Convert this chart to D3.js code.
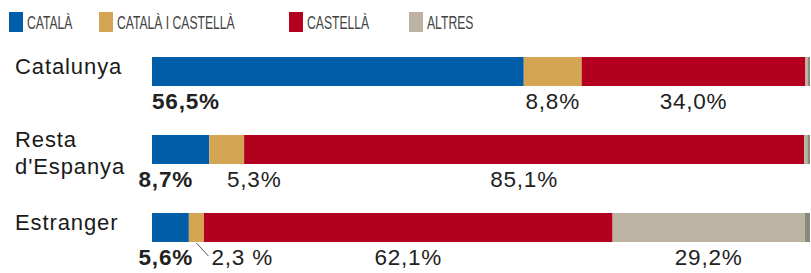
<!DOCTYPE html>
<html>
<head>
<meta charset="utf-8">
<script src="https://cdn.jsdelivr.net/npm/d3@7"></script>
<style>
  body { margin: 0; background: #fff; }
  svg { display: block; font-family: "Liberation Sans", Arial, sans-serif; }
</style>
</head>
<body>
<div id="chart"></div>
<script>
// Data
var categories = ["Catalunya", "Resta d'Espanya", "Estranger"];
var categoryLines = [["Catalunya"], ["Resta", "d'Espanya"], ["Estranger"]];
var seriesNames = ["CATALÀ", "CATALÀ I CASTELLÀ", "CASTELLÀ", "ALTRES", "NS/NC"];
var catala = [56.5, 8.7, 5.6];
var ambdues = [8.8, 5.3, 2.3];
var castella = [34.0, 85.1, 62.1];
var altres = [0.4, 0.5, 29.2];
var nsnc = [0.3, 0.4, 0.8];
var catalaLabels = ["56,5%", "8,7%", "5,6%"];
var ambduesLabels = ["8,8%", "5,3%", "2,3 %"];
var castellaLabels = ["34,0%", "85,1%", "62,1%"];
var altresLabels = ["", "", "29,2%"];
var colors = ["#005ea8", "#d4a552", "#b2001e", "#bcb3a2", "#8a8a7a"];

var config = {
	width : 811,
	height : 273,
	barLeft : 152,
	barRight : 810,
	barTop : 57,
	barBottom : 242,
	labelGap : 34
};

var table = categories.map(function(c, i) {
	return {cat: c, lines: categoryLines[i],
		"CATALÀ": catala[i], "CATALÀ I CASTELLÀ": ambdues[i],
		"CASTELLÀ": castella[i], "ALTRES": altres[i], "NS/NC": nsnc[i],
		labels: [catalaLabels[i], ambduesLabels[i], castellaLabels[i], altresLabels[i], ""]};
});

var stacked = d3.stack().keys(seriesNames)(table);

var x = d3.scaleLinear().domain([0, 100]).range([config.barLeft, config.barRight]);
var y = d3.scaleBand().domain(categories)
	.range([config.barTop, config.barBottom])
	.paddingInner(0.628).paddingOuter(0);
var color = d3.scaleOrdinal().domain(seriesNames).range(colors);

var svg = d3.select("#chart").append("svg")
	.attr("width", config.width)
	.attr("height", config.height);

// Legend
var legendX = [9, 99, 289, 409];
var legend = svg.selectAll("g.legend")
	.data(seriesNames.slice(0, 4))
	.enter().append("g")
	.attr("class", "legend")
	.attr("transform", function(d, i) { return "translate(" + legendX[i] + ",12)"; });
legend.append("rect")
	.attr("width", 14)
	.attr("height", 20)
	.attr("fill", function(d) { return color(d); });
legend.append("text")
	.attr("transform", "translate(18,16.5) scale(0.64,1)")
	.attr("font-size", 19)
	.attr("fill", "#444")
	.text(function(d) { return d; });

// Bars
svg.selectAll("g.series")
	.data(stacked)
	.enter().append("g")
	.attr("class", "series")
	.attr("fill", function(d) { return color(d.key); })
	.selectAll("rect")
	.data(function(d) { return d; })
	.enter().append("rect")
	.attr("x", function(d) { return x(d[0]); })
	.attr("y", function(d) { return y(d.data.cat); })
	.attr("width", function(d) { return x(d[1]) - x(d[0]); })
	.attr("height", y.bandwidth());

// Category labels
var catText = svg.selectAll("text.cat")
	.data(table)
	.enter().append("text")
	.attr("class", "cat")
	.attr("font-size", 22)
	.attr("letter-spacing", 0.9)
	.attr("fill", "#1a1a1a");
catText.selectAll("tspan")
	.data(function(d) { return d.lines.map(function(l, i) { return {l: l, i: i, n: d.lines.length, cat: d.cat}; }); })
	.enter().append("tspan")
	.attr("x", 15)
	.attr("y", function(d) {
		var top = y(d.cat);
		return d.n === 1 ? top + 17 : top + 12 + d.i * 27;
	})
	.text(function(d) { return d.l; });

// Value labels, row by row so a label can be pushed clear of the previous one
table.forEach(function(row, ri) {
	var lastEnd = -Infinity;
	stacked.forEach(function(s, si) {
		var d = s[ri];
		var label = row.labels[si];
		if (!label) return;
		var x0 = x(d[0]), x1 = x(d[1]), w = x1 - x0;
		var by = y(row.cat) + y.bandwidth();
		var t = svg.append("text")
			.attr("y", by + 23)
			.attr("font-size", 22.5)
			.attr("letter-spacing", 0.8)
			.attr("fill", "#222")
			.text(label);
		if (si === 0) {
			t.attr("font-weight", "bold");
			if (w >= 80) t.attr("x", x0).attr("text-anchor", "start");
			else t.attr("x", x0 + 41).attr("text-anchor", "end");
		} else if (w < 20) {
			var cx = (x0 + x1) / 2;
			svg.append("line")
				.attr("x1", cx).attr("y1", by + 1)
				.attr("x2", cx + 12).attr("y2", by + 14)
				.attr("stroke", "#555").attr("stroke-width", 1);
			t.attr("x", cx + 15).attr("text-anchor", "start");
		} else {
			var tw = t.node().getComputedTextLength();
			var start = Math.max((x0 + x1) / 2 - tw / 2, lastEnd + config.labelGap);
			t.attr("x", start).attr("text-anchor", "start");
		}
		var bb = t.node().getBBox();
		lastEnd = bb.x + bb.width;
	});
});
</script>
</body>
</html>
